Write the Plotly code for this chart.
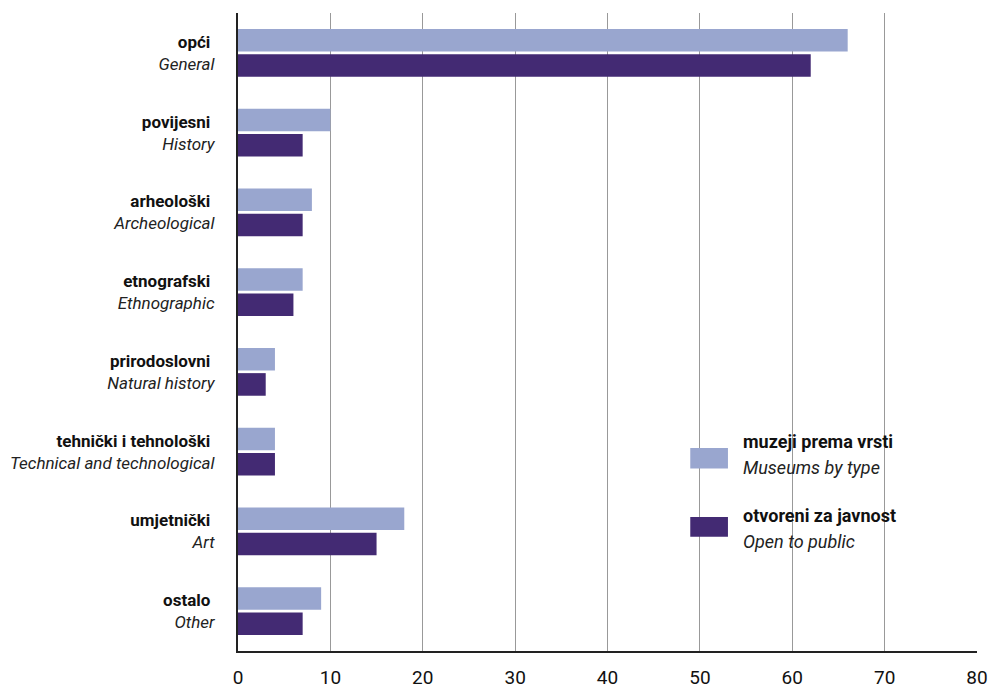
import plotly.graph_objects as go

categories_hr = ["opći", "povijesni", "arheološki", "etnografski", "prirodoslovni",
                 "tehnički i tehnološki", "umjetnički", "ostalo"]
categories_en = ["General", "History", "Archeological", "Ethnographic", "Natural history",
                 "Technical and technological", "Art", "Other"]
museums_by_type = [66, 10, 8, 7, 4, 4, 18, 9]
open_to_public = [62, 7, 7, 6, 3, 4, 15, 7]
x_ticks = [0, 10, 20, 30, 40, 50, 60, 70, 80]

LIGHT = "#99a6cf"
DARK = "#432a73"
FONT = "Roboto, sans-serif"

labels = [f"<b>{hr}</b> <br><i><span style='color:#222'>{en}</span></i>"
          for hr, en in zip(categories_hr, categories_en)]

fig = go.Figure()
fig.add_trace(go.Bar(y=categories_hr, x=museums_by_type, orientation="h",
                     marker=dict(color=LIGHT, line=dict(width=0)), name="muzeji prema vrsti"))
fig.add_trace(go.Bar(y=categories_hr, x=open_to_public, orientation="h",
                     marker=dict(color=DARK, line=dict(width=0)), name="otvoreni za javnost"))

fig.update_layout(
    width=989, height=689,
    margin=dict(l=238, r=12, t=13, b=38),
    paper_bgcolor="white", plot_bgcolor="white",
    barmode="group", bargap=0.37, bargroupgap=0.1,
    showlegend=False,
    font=dict(family=FONT, size=18, color="#111"),
)
fig.update_yaxes(
    categoryorder="array", categoryarray=categories_hr,
    tickvals=categories_hr, ticktext=labels,
    autorange="reversed", automargin=False,
    showline=True, linecolor="#222", linewidth=2,
    ticks="", ticklabelstandoff=18,
    showgrid=False, zeroline=False,
    tickfont=dict(family=FONT, size=17, color="#111"),
)
fig.update_xaxes(
    range=[0, 80], tickvals=x_ticks, automargin=False,
    showgrid=True, gridcolor="#999", gridwidth=1,
    showline=True, linecolor="#222", linewidth=2,
    zeroline=False, ticks="", ticklabelstandoff=8,
    tickfont=dict(family=FONT, size=19, color="#111"),
)

# legend drawn with shapes and annotations
legend_items = [("muzeji prema vrsti", "Museums by type", LIGHT, 0.329, 0.288, 0.286, 0.318),
                ("otvoreni za javnost", "Open to public", DARK, 0.213, 0.172, 0.179, 0.21)]
for hr, en, col, yb, yi, r0, r1 in legend_items:
    fig.add_shape(type="rect", xref="paper", yref="paper",
                  x0=0.612, x1=0.663, y0=r0, y1=r1,
                  fillcolor=col, line=dict(width=0))
    fig.add_annotation(xref="paper", yref="paper", x=0.68, y=yb, xanchor="left", yanchor="middle",
                       text=f"<b>{hr}</b>", showarrow=False,
                       font=dict(family=FONT, size=18, color="#111"))
    fig.add_annotation(xref="paper", yref="paper", x=0.68, y=yi, xanchor="left", yanchor="middle",
                       text=f"<i>{en}</i>", showarrow=False,
                       font=dict(family=FONT, size=18, color="#222"))

# drop the default body margin so the figure sits at the window's top-left corner
fig.write_html("out.html", config={"displayModeBar": False},
               post_script="document.body.style.margin='0';document.body.style.overflow='hidden';")
